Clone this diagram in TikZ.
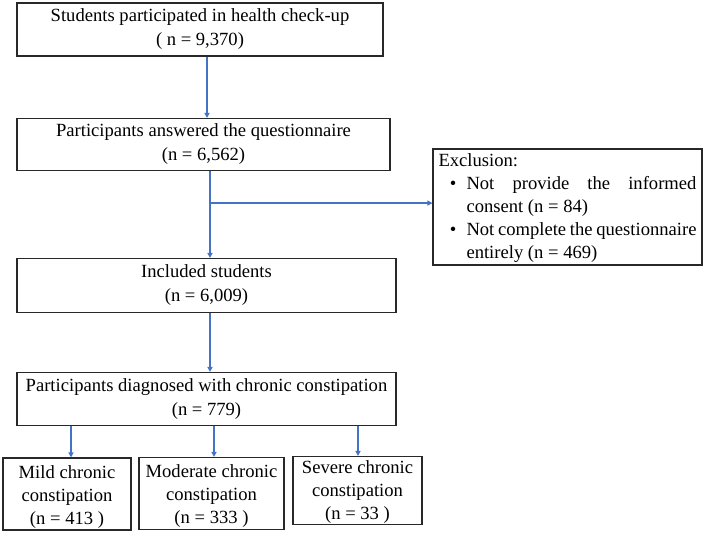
\documentclass[tikz,border=0pt]{standalone}
\usepackage{fontspec}
\setmainfont{Liberation Serif}
\usetikzlibrary{arrows.meta,calc}
\definecolor{arrblue}{RGB}{68,114,196}
\definecolor{boxline}{RGB}{40,40,40}
\begin{document}
\begin{tikzpicture}[x=1pt,y=-1pt,
  box/.style={draw=boxline, line width=1.1pt, align=center, inner sep=0pt,
    font=\fontsize{18.6}{24}\selectfont},
  lowbox/.style={box, font=\fontsize{18.6}{23}\selectfont, text height=65pt, text depth=5pt},
  arr/.style={draw=arrblue, line width=1.4pt, -{Triangle[length=5pt,width=5pt]}}]
\useasboundingbox (0,0) rectangle (709,534);

\node[box, minimum width=366pt, minimum height=53pt] (b1) at (200,29.5)
  {Students participated in health check-up\\( n = 9,370)};
\node[box, minimum width=373pt, minimum height=52pt] (b2) at (203.5,144.5)
  {Participants answered the questionnaire\\(n = 6,562)};
\node[box, minimum width=379pt, minimum height=54pt] (b3) at (206.5,285.5)
  {Included students\\(n = 6,009)};
\node[box, minimum width=379pt, minimum height=53pt] (b4) at (206.5,399)
  {Participants diagnosed with chronic constipation\\(n = 779)};
\node[lowbox, minimum width=128pt, minimum height=72pt] (b5) at (67,494)
  {Mild chronic\\constipation\\(n = 413 )};
\node[lowbox, minimum width=145pt, minimum height=72pt] (b6) at (211.5,493.5)
  {Moderate chronic\\constipation\\(n = 333 )};
\node[lowbox, text height=62pt, minimum width=129pt, minimum height=68pt] (b7) at (357.5,490.5)
  {Severe chronic\\constipation\\(n = 33 )};

\node[box, font=\fontsize{18.6}{23}\selectfont, align=justify, text width=258pt,
      inner xsep=5.5pt, minimum height=116pt] (ex) at (567.5,207)
  {\hyphenpenalty=10000\exhyphenpenalty=10000
   \rule{0pt}{15pt}Exclusion:\par
   \begin{list}{\textbullet}{\setlength\leftmargin{28pt}\setlength\labelsep{10pt}%
     \setlength\labelwidth{14pt}\setlength\topsep{0pt}\setlength\itemsep{0pt}%
     \setlength\parsep{0pt}\setlength\partopsep{0pt}}
   \item Not provide the informed consent (n = 84)
   \item Not complete the questionnaire entirely (n = 469)
   \end{list}};

% connectors
\draw[arr] ([xshift=7pt]b1.south) -- ([xshift=7pt]b1.south |- b2.north);
\draw[arr] ([xshift=6.5pt]b2.south) -- ([xshift=6.5pt]b2.south |- b3.north);
\coordinate (br) at ([xshift=6.5pt,yshift=-32pt]b2.south);
\draw[arr] (br) -- (br -| ex.west);
\draw[arr] ([xshift=3.5pt]b3.south) -- ([xshift=3.5pt]b3.south |- b4.north);
\draw[arr] ([xshift=4pt]b5.north |- b4.south) -- ([xshift=4pt]b5.north);
\draw[arr] ([xshift=2.5pt]b6.north |- b4.south) -- ([xshift=2.5pt]b6.north);
\draw[arr] ([xshift=0.5pt]b7.north |- b4.south) -- ([xshift=0.5pt]b7.north);
\end{tikzpicture}
\end{document}
